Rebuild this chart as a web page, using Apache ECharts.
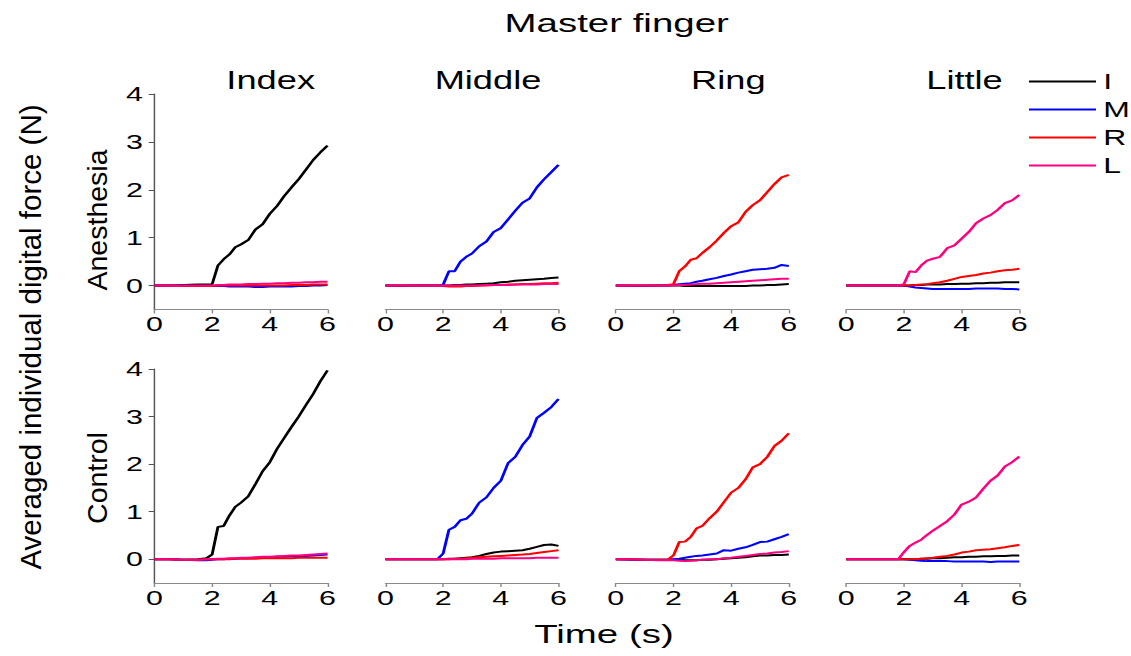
<!DOCTYPE html>
<html>
<head>
<meta charset="utf-8">
<script src="https://cdn.jsdelivr.net/npm/echarts@6/dist/echarts.min.js"></script>
<style>
html,body{margin:0;padding:0;background:#fff;overflow:hidden;}
#c{width:780px;height:656px;transform:scaleX(1.45);transform-origin:0 0;}
</style>
</head>
<body>
<div id="c"></div>
<script>
// ---- data ----
const T = [0, 0.5, 1, 1.5, 1.8, 2, 2.2, 2.4, 2.6, 2.8, 3, 3.25, 3.5, 3.75, 4, 4.25, 4.5, 4.75, 5, 5.25, 5.5, 5.75, 6];
const fingers = ['I', 'M', 'R', 'L'];
const masterFingers = ['Index', 'Middle', 'Ring', 'Little'];
const conditions = ['Anesthesia', 'Control'];
const xTicks = [0, 2, 4, 6];
const yTicks = [0, 1, 2, 3, 4];

// Anesthesia
const aIdx_I = [0, 0, 0.01, 0.02, 0.02, 0.03, 0.42, 0.55, 0.65, 0.8, 0.86, 0.95, 1.17, 1.28, 1.5, 1.66, 1.87, 2.05, 2.22, 2.42, 2.62, 2.78, 2.92];
const aIdx_M = [0, 0, 0, -0.01, -0.01, -0.01, -0.01, -0.01, -0.02, -0.02, -0.02, -0.02, -0.03, -0.03, -0.02, -0.02, -0.02, -0.02, -0.01, -0.01, 0, 0, 0.01];
const aIdx_R = [0, 0, -0.01, -0.01, -0.01, -0.01, 0, 0, 0, 0, 0, 0, 0, 0, 0, 0, 0, 0.01, 0.01, 0.01, 0.02, 0.02, 0.02];
const aIdx_L = [0, 0, 0, 0, 0, 0, 0.01, 0.01, 0.02, 0.02, 0.02, 0.03, 0.03, 0.04, 0.04, 0.05, 0.05, 0.06, 0.06, 0.07, 0.07, 0.08, 0.08];

const aMid_I = [0, 0, 0, 0, 0, 0, 0, 0.01, 0.01, 0.02, 0.02, 0.03, 0.04, 0.05, 0.07, 0.08, 0.1, 0.11, 0.12, 0.13, 0.14, 0.16, 0.17];
const aMid_M = [0, -0.01, 0, 0, 0, 0.02, 0.3, 0.3, 0.5, 0.6, 0.67, 0.82, 0.92, 1.12, 1.2, 1.38, 1.56, 1.73, 1.82, 2.05, 2.22, 2.37, 2.52];
const aMid_R = [0, 0, 0, 0, 0, -0.01, -0.02, -0.02, -0.02, -0.01, -0.01, 0, 0, 0.01, 0.01, 0.02, 0.02, 0.03, 0.03, 0.04, 0.05, 0.05, 0.06];
const aMid_L = [0, 0, 0, 0, 0, 0, 0, 0, 0, 0, 0, 0, 0.01, 0.01, 0.01, 0.01, 0.02, 0.02, 0.02, 0.02, 0.03, 0.03, 0.03];

const aRing_I = [0, 0, 0, 0, 0, 0, 0, -0.01, -0.01, -0.01, -0.01, -0.01, -0.01, -0.01, -0.01, -0.01, -0.01, 0, 0, 0.01, 0.01, 0.02, 0.03];
const aRing_M = [0, -0.01, -0.01, 0, 0, 0.01, 0.03, 0.04, 0.05, 0.08, 0.1, 0.13, 0.16, 0.2, 0.23, 0.27, 0.3, 0.33, 0.34, 0.35, 0.37, 0.43, 0.41];
const aRing_R = [0, 0, 0, 0, 0.01, 0.03, 0.3, 0.4, 0.54, 0.57, 0.68, 0.8, 0.94, 1.1, 1.24, 1.32, 1.54, 1.68, 1.78, 1.95, 2.12, 2.26, 2.31];
const aRing_L = [0, 0, 0, 0, 0, 0, 0.01, 0.01, 0.02, 0.03, 0.04, 0.04, 0.05, 0.06, 0.07, 0.08, 0.09, 0.1, 0.11, 0.12, 0.13, 0.14, 0.14];

const aLit_I = [0, 0, 0, 0, 0, 0, 0, 0.01, 0.01, 0.02, 0.02, 0.02, 0.03, 0.03, 0.04, 0.04, 0.05, 0.05, 0.06, 0.06, 0.07, 0.07, 0.07];
const aLit_M = [0, 0, 0, 0, 0, 0, -0.02, -0.04, -0.05, -0.06, -0.07, -0.07, -0.07, -0.07, -0.07, -0.07, -0.06, -0.06, -0.06, -0.06, -0.07, -0.07, -0.08];
const aLit_R = [0, 0, 0, 0, 0, 0, 0, 0.01, 0.02, 0.03, 0.05, 0.07, 0.1, 0.14, 0.18, 0.2, 0.22, 0.25, 0.27, 0.3, 0.32, 0.33, 0.35];
const aLit_L = [0, 0, 0, 0, 0, 0.03, 0.3, 0.28, 0.42, 0.52, 0.56, 0.6, 0.78, 0.84, 0.98, 1.12, 1.3, 1.4, 1.47, 1.58, 1.72, 1.78, 1.89];

// Control
const cIdx_I = [0, 0, -0.01, 0, 0.02, 0.1, 0.68, 0.7, 0.92, 1.1, 1.19, 1.32, 1.58, 1.85, 2.04, 2.32, 2.55, 2.78, 3.0, 3.24, 3.47, 3.74, 3.97];
const cIdx_M = [0, 0, -0.01, -0.02, -0.02, -0.01, 0, 0, 0.01, 0.01, 0.02, 0.02, 0.03, 0.03, 0.04, 0.05, 0.05, 0.06, 0.06, 0.07, 0.08, 0.09, 0.1];
const cIdx_R = [0, 0, -0.01, -0.01, 0, 0, 0, 0, 0, 0.01, 0.01, 0.01, 0.01, 0.02, 0.02, 0.02, 0.02, 0.02, 0.03, 0.03, 0.03, 0.03, 0.03];
const cIdx_L = [0, 0, -0.01, -0.01, 0, 0, 0.01, 0.01, 0.02, 0.02, 0.03, 0.03, 0.04, 0.05, 0.05, 0.06, 0.07, 0.08, 0.08, 0.09, 0.1, 0.11, 0.12];

const cMid_I = [0, 0, 0, 0, 0, 0, 0.01, 0.01, 0.02, 0.03, 0.04, 0.07, 0.11, 0.14, 0.16, 0.17, 0.18, 0.19, 0.22, 0.26, 0.3, 0.31, 0.28];
const cMid_M = [0, 0, 0, 0, 0, 0.12, 0.62, 0.68, 0.82, 0.85, 0.96, 1.19, 1.3, 1.5, 1.65, 2.02, 2.15, 2.4, 2.58, 2.97, 3.08, 3.2, 3.37];
const cMid_R = [0, 0, 0, 0, 0, 0, 0, 0.01, 0.01, 0.02, 0.03, 0.04, 0.05, 0.06, 0.07, 0.08, 0.09, 0.1, 0.11, 0.13, 0.15, 0.17, 0.19];
const cMid_L = [0, 0, 0, 0, 0, 0, 0, 0, 0, 0, 0.01, 0.01, 0.01, 0.01, 0.02, 0.02, 0.02, 0.02, 0.02, 0.03, 0.03, 0.03, 0.03];

const cRing_I = [0, 0, -0.01, -0.01, -0.01, -0.01, -0.01, -0.02, -0.02, -0.02, -0.01, -0.01, 0, 0.01, 0.02, 0.03, 0.04, 0.06, 0.08, 0.08, 0.09, 0.09, 0.1];
const cRing_M = [0, -0.01, -0.01, -0.01, -0.01, 0, 0.01, 0.03, 0.05, 0.07, 0.08, 0.1, 0.12, 0.19, 0.18, 0.22, 0.25, 0.3, 0.36, 0.37, 0.42, 0.47, 0.53];
const cRing_R = [0, 0, -0.01, -0.01, -0.01, 0.08, 0.36, 0.37, 0.47, 0.65, 0.7, 0.86, 1.0, 1.2, 1.4, 1.5, 1.68, 1.93, 2.0, 2.15, 2.38, 2.49, 2.65];
const cRing_L = [0, 0, -0.01, -0.02, -0.02, -0.02, -0.03, -0.04, -0.03, -0.02, -0.01, 0, 0, 0.02, 0.03, 0.05, 0.07, 0.09, 0.11, 0.12, 0.14, 0.15, 0.17];

const cLit_I = [0, 0, 0, 0, 0, 0, 0, 0, 0.01, 0.01, 0.02, 0.02, 0.03, 0.04, 0.04, 0.05, 0.05, 0.06, 0.06, 0.07, 0.07, 0.08, 0.08];
const cLit_M = [0, 0, 0, 0, 0, 0, -0.01, -0.02, -0.03, -0.04, -0.04, -0.04, -0.04, -0.05, -0.05, -0.05, -0.05, -0.05, -0.06, -0.05, -0.05, -0.05, -0.05];
const cLit_R = [0, 0, 0, 0, 0, 0, 0, 0, 0.01, 0.02, 0.03, 0.05, 0.07, 0.1, 0.14, 0.16, 0.19, 0.2, 0.21, 0.23, 0.25, 0.28, 0.3];
const cLit_L = [0, 0, 0, 0, 0, 0.15, 0.28, 0.35, 0.41, 0.51, 0.6, 0.7, 0.8, 0.94, 1.15, 1.21, 1.3, 1.48, 1.65, 1.76, 1.95, 2.04, 2.16];

const panels = [
  [[aIdx_I, aIdx_M, aIdx_R, aIdx_L], [aMid_I, aMid_M, aMid_R, aMid_L], [aRing_I, aRing_M, aRing_R, aRing_L], [aLit_I, aLit_M, aLit_R, aLit_L]],
  [[cIdx_I, cIdx_M, cIdx_R, cIdx_L], [cMid_I, cMid_M, cMid_R, cMid_L], [cRing_I, cRing_M, cRing_R, cRing_L], [cLit_I, cLit_M, cLit_R, cLit_L]]
];

// ---- layout / style ----
const S = 1.45;               // horizontal stretch of the figure
const sx = v => v / S;        // screen px -> chart px
const colors = ['#000000', '#0000ff', '#ff0000', '#ff0080'];
const FONT = 'Liberation Sans, Arial, Helvetica, sans-serif';
const colLeft = [154.5, 385.5, 615.8, 846.3];
const colWidth = 173;
const rowTop = [94, 369];
const rowHeight = [215.5, 214];
const titleX = [270.7, 488, 728.3, 964.5];

const grids = [], xAxes = [], yAxes = [], series = [];
for (let r = 0; r < 2; r++) {
  for (let c = 0; c < 4; c++) {
    const gi = grids.length;
    grids.push({ left: sx(colLeft[c]), top: rowTop[r], width: sx(colWidth), height: rowHeight[r], containLabel: false });
    xAxes.push({
      type: 'value', gridIndex: gi, min: 0, max: 6, interval: 2,
      axisLine: { show: true, onZero: false, lineStyle: { color: '#8a8a8a', width: 1 } },
      axisTick: { show: true, length: 4, lineStyle: { color: '#8a8a8a', width: 1 } },
      axisLabel: { color: '#000', fontSize: 21, fontFamily: FONT, margin: 4, customValues: xTicks },
      splitLine: { show: false }
    });
    yAxes.push({
      type: 'value', gridIndex: gi, min: -0.5, max: 4, show: c === 0,
      axisLine: { show: true, onZero: false, lineStyle: { color: '#555', width: 1 } },
      axisTick: { show: true, length: 4, customValues: yTicks, lineStyle: { color: '#555', width: 1 } },
      axisLabel: { color: '#000', fontSize: 21, fontFamily: FONT, margin: 8, customValues: yTicks },
      splitLine: { show: false }
    });
    for (let f = 0; f < 4; f++) {
      const vals = panels[r][c][f];
      series.push({
        type: 'line', name: fingers[f], xAxisIndex: gi, yAxisIndex: gi,
        data: T.map((t, i) => [t, vals[i]]),
        symbol: 'none', showSymbol: false,
        lineStyle: { color: colors[f], width: 2 },
        itemStyle: { color: colors[f] },
        emphasis: { disabled: true },
        animation: false
      });
    }
  }
}

function hText(text, x, y, size) {
  return { type: 'text', x: sx(x), y: y, silent: true,
    style: { text: text, fill: '#000', fontSize: size, fontFamily: FONT,
      align: 'center', verticalAlign: 'middle', textAlign: 'center', textVerticalAlign: 'middle' } };
}
function vText(text, x, y, size) {
  return { type: 'text', x: sx(x), y: y, rotation: Math.PI / 2, scaleX: 1, scaleY: 1 / S, silent: true,
    style: { text: text, fill: '#000', fontSize: size, fontFamily: FONT,
      align: 'center', verticalAlign: 'middle', textAlign: 'center', textVerticalAlign: 'middle' } };
}

const graphics = [hText('Master finger', 616.7, 22.5, 26.5), hText('Time (s)', 604, 634, 26.5)];
masterFingers.forEach((m, i) => graphics.push(hText(m, titleX[i], 81, 25)));
graphics.push(vText('Averaged individual digital force (N)', 30, 337, 29.5));
graphics.push(vText(conditions[0], 97, 220, 28.5));
graphics.push(vText(conditions[1], 97, 478, 28.5));

const chart = echarts.init(document.getElementById('c'), null, { renderer: 'svg' });
chart.setOption({
  backgroundColor: '#ffffff',
  animation: false,
  grid: grids,
  xAxis: xAxes,
  yAxis: yAxes,
  series: series,
  legend: {
    data: fingers, orient: 'vertical', left: sx(1029), top: 70.5, padding: 0,
    icon: 'rect', itemWidth: sx(67), itemHeight: 2, itemGap: 6, selectedMode: false,
    textStyle: { color: '#000', fontSize: 22, fontFamily: FONT, lineHeight: 20 }
  },
  graphic: graphics
});
</script>
</body>
</html>
